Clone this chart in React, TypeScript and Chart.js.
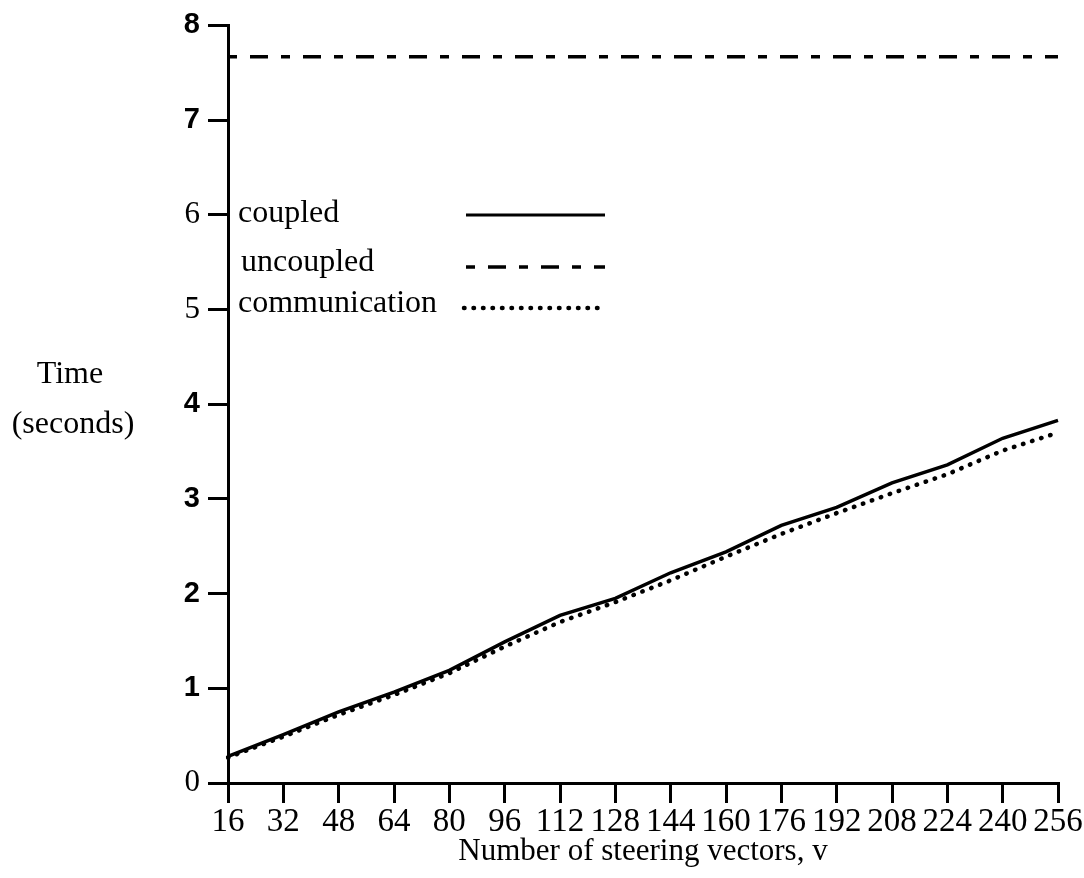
import { useEffect, useRef } from 'react';
import { Chart, registerables } from 'chart.js';

Chart.register(...registerables);

// Number of steering vectors on the horizontal axis
const steeringVectors = ['16', '32', '48', '64', '80', '96', '112', '128', '144', '160', '176', '192', '208', '224', '240', '256'];

// Execution times in seconds
const coupledTimes = [0.28, 0.51, 0.75, 0.96, 1.19, 1.49, 1.77, 1.95, 2.22, 2.44, 2.72, 2.91, 3.17, 3.36, 3.64, 3.83];
const uncoupledTimes = [7.67, 7.67, 7.67, 7.67, 7.67, 7.67, 7.67, 7.67, 7.67, 7.67, 7.67, 7.67, 7.67, 7.67, 7.67, 7.67];
const communicationTimes = [0.27, 0.49, 0.72, 0.93, 1.16, 1.44, 1.70, 1.91, 2.14, 2.39, 2.63, 2.85, 3.06, 3.26, 3.51, 3.70];

const seriesNames = ['coupled', 'uncoupled', 'communication'];
const yTitleLines = ['Time', '(seconds)'];
const xTitle = 'Number of steering vectors, v';

const SERIF = '"Liberation Serif", "Times New Roman", serif';
const SANS = '"Liberation Sans", Arial, sans-serif';

const SOLID: number[] = [];
const DASHED = [9, 13, 18, 13];
const DOTTED = [0.5, 9];

// Hand-placed key inside the plot, plus the horizontal two-line y title
const annotations = {
  id: 'annotations',
  afterDraw(chart: any) {
    const ctx = chart.ctx as CanvasRenderingContext2D;
    ctx.save();
    ctx.fillStyle = '#000';
    ctx.strokeStyle = '#000';

    // y-axis title, written horizontally to the left of the axis
    ctx.font = `32px ${SERIF}`;
    ctx.textAlign = 'center';
    ctx.textBaseline = 'alphabetic';
    ctx.fillText(yTitleLines[0], 70, 383);
    ctx.fillText(yTitleLines[1], 73, 433);

    // key
    const rows = [
      { textX: 238, baseline: 222, lineY: 215, dash: SOLID, width: 3, cap: 'butt', x0: 466 },
      { textX: 241, baseline: 271, lineY: 267, dash: DASHED, width: 3.5, cap: 'butt', x0: 466 },
      { textX: 238, baseline: 312, lineY: 308, dash: DOTTED, width: 4.5, cap: 'round', x0: 464 },
    ];
    ctx.textAlign = 'left';
    rows.forEach((r, i) => {
      ctx.font = `32px ${SERIF}`;
      ctx.fillText(seriesNames[i], r.textX, r.baseline);
      ctx.beginPath();
      ctx.setLineDash(r.dash);
      ctx.lineWidth = r.width;
      ctx.lineCap = r.cap as CanvasLineCap;
      ctx.moveTo(r.x0, r.lineY);
      ctx.lineTo(605, r.lineY);
      ctx.stroke();
    });
    ctx.restore();
  },
};

export default function App() {
  const canvasRef = useRef<HTMLCanvasElement | null>(null);

  useEffect(() => {
    if (!canvasRef.current) return;
    const chart = new Chart(canvasRef.current, {
      type: 'line',
      data: {
        labels: steeringVectors,
        datasets: [
          {
            label: seriesNames[0],
            data: coupledTimes,
            borderColor: '#000',
            borderWidth: 3.5,
            pointRadius: 0,
            tension: 0,
          },
          {
            label: seriesNames[1],
            data: uncoupledTimes,
            borderColor: '#000',
            borderWidth: 3.5,
            borderDash: DASHED,
            pointRadius: 0,
            tension: 0,
          },
          {
            label: seriesNames[2],
            data: communicationTimes,
            borderColor: '#000',
            borderWidth: 4.5,
            borderDash: DOTTED,
            borderCapStyle: 'round',
            pointRadius: 0,
            tension: 0,
          },
        ],
      },
      options: {
        responsive: false,
        animation: false,
        events: [],
        layout: { padding: { left: 0, right: 26, top: 25, bottom: 0 } },
        plugins: {
          legend: { display: false },
          tooltip: { enabled: false },
        },
        scales: {
          x: {
            type: 'category',
            offset: false,
            afterFit: (scale: any) => {
              scale.height = 95;
            },
            border: { display: true, color: '#000', width: 3 },
            grid: {
              display: true,
              drawOnChartArea: false,
              drawTicks: true,
              tickLength: 20,
              color: '#000',
              lineWidth: 3,
            },
            ticks: {
              color: '#000',
              font: { family: SERIF, size: 33 },
              padding: 0,
              maxRotation: 0,
              autoSkip: false,
            },
            title: {
              display: true,
              text: xTitle,
              color: '#000',
              font: { family: SERIF, size: 31 },
              padding: { top: 0, bottom: 8 },
            },
          },
          y: {
            type: 'linear',
            min: 0,
            max: 8,
            afterFit: (scale: any) => {
              scale.width = 228;
            },
            border: { display: true, color: '#000', width: 3 },
            grid: {
              display: true,
              drawOnChartArea: false,
              drawTicks: true,
              tickLength: 20,
              color: '#000',
              lineWidth: 3,
            },
            ticks: {
              stepSize: 1,
              color: '#000',
              padding: 8,
              font: (c: any) => {
                const v = c.tick ? c.tick.value : 1;
                return v === 0 || v === 5 || v === 6
                  ? { family: SERIF, size: 31 }
                  : { family: SANS, size: 29, weight: 'bold' };
              },
            },
          },
        },
      },
      plugins: [annotations],
    } as any);
    return () => chart.destroy();
  }, []);

  return (
    <div style={{ position: 'fixed', left: 0, top: 0, width: 1084, height: 878, background: '#fff' }}>
      <canvas ref={canvasRef} width={1084} height={878} style={{ display: 'block' }} />
    </div>
  );
}
